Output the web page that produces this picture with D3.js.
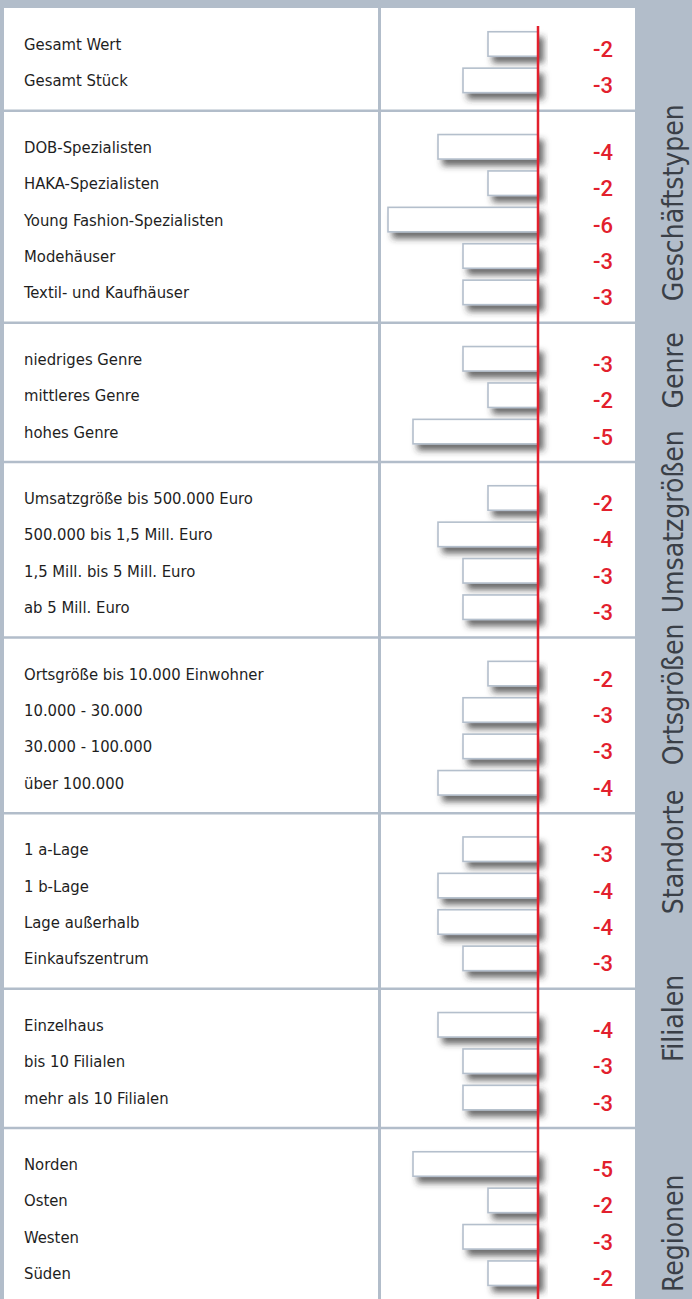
<!DOCTYPE html>
<html>
<head>
<meta charset="utf-8">
<script src="https://cdn.jsdelivr.net/npm/d3@7"></script>
<style>
  body { margin: 0; background: #b2bdca; }
  svg { display: block; }
</style>
</head>
<body>
<div id="vizArea"></div>
<script>

var w = 692
var h = 1299

// DATA ********************************
var groupNames = ["", "Geschäftstypen", "Genre", "Umsatzgrößen", "Ortsgrößen", "Standorte", "Filialen", "Regionen"];
var groupSizes = [2, 5, 3, 4, 4, 4, 3, 4];

var categories = [
    "Gesamt Wert", "Gesamt Stück",
    "DOB-Spezialisten", "HAKA-Spezialisten", "Young Fashion-Spezialisten", "Modehäuser", "Textil- und Kaufhäuser",
    "niedriges Genre", "mittleres Genre", "hohes Genre",
    "Umsatzgröße bis 500.000 Euro", "500.000 bis 1,5 Mill. Euro", "1,5 Mill. bis 5 Mill. Euro", "ab 5 Mill. Euro",
    "Ortsgröße bis 10.000 Einwohner", "10.000 - 30.000", "30.000 - 100.000", "über 100.000",
    "1 a-Lage", "1 b-Lage", "Lage außerhalb", "Einkaufszentrum",
    "Einzelhaus", "bis 10 Filialen", "mehr als 10 Filialen",
    "Norden", "Osten", "Westen", "Süden"
];

var values = [
    -2, -3,
    -4, -2, -6, -3, -3,
    -3, -2, -5,
    -2, -4, -3, -3,
    -2, -3, -3, -4,
    -3, -4, -4, -3,
    -4, -3, -3,
    -5, -2, -3, -2
];

// LAYOUT ********************************
var grey = "#b2bdca";
var red = "#e2202d";
var rowStep = 36.4, groupGap = 30, firstRow = 44;
var barH = 24.5;
// side bar titles are not centred on their groups in the original, nudge them
var sideShift = [0, -14, -22, -28, -31, -49, -40, 15];

// flatten rows with their group index
var rows = [];
var gi = 0, count = 0;
categories.forEach(function(c, i) {
    if (count == groupSizes[gi]) { gi++; count = 0; }
    rows.push({label: c, value: values[i], group: gi, idx: i});
    count++;
});

function rowY(d) {
    return firstRow + d.idx * rowStep + d.group * groupGap;
}

var x = d3.scaleLinear().domain([-6, 0]).range([388, 538]);

// group extents (top separator y)
var groups = groupNames.map(function(name, g) {
    var first = rows.filter(function(r) { return r.group == g; })[0];
    return {name: name, g: g, top: g == 0 ? 8 : rowY(first) - 36, n: groupSizes[g]};
});
groups.forEach(function(d, i) {
    d.bottom = i < groups.length - 1 ? groups[i + 1].top : d.top + d.n * rowStep + 35;
});

var svg = d3.select("#vizArea").append("svg")
    .attr("width", w)
    .attr("height", h);

var defs = svg.append("defs");
var f = defs.append("filter").attr("id", "shadow")
    .attr("x", "-10%").attr("y", "-40%").attr("width", "130%").attr("height", "200%");
f.append("feDropShadow")
    .attr("dx", 5).attr("dy", 6)
    .attr("stdDeviation", 3.2)
    .attr("flood-color", "#2e2e2e")
    .attr("flood-opacity", 0.7);

// background + white panels
svg.append("rect").attr("width", w).attr("height", h).attr("fill", grey);
svg.append("rect").attr("x", 4).attr("y", 8).attr("width", 374).attr("height", h).attr("fill", "#fff");
svg.append("rect").attr("x", 381).attr("y", 8).attr("width", 254).attr("height", h).attr("fill", "#fff");

// separators between groups
svg.selectAll("line.sep")
    .data(groups.slice(1))
    .enter()
    .append("line")
    .attr("class", "sep")
    .attr("x1", 4).attr("x2", 635)
    .attr("y1", function(d) { return d.top; })
    .attr("y2", function(d) { return d.top; })
    .attr("stroke", grey)
    .attr("stroke-width", 2.5);

// bars
svg.selectAll("rect.bar")
    .data(rows)
    .enter()
    .append("rect")
    .attr("class", "bar")
    .attr("x", function(d) { return x(d.value); })
    .attr("y", function(d) { return rowY(d) - barH / 2; })
    .attr("width", function(d) { return x(0) - x(d.value); })
    .attr("height", barH)
    .attr("fill", "#fff")
    .attr("stroke", "#b4bfcc")
    .attr("stroke-width", 1.6)
    .attr("filter", "url(#shadow)");

// zero line
svg.append("line")
    .attr("x1", x(0)).attr("x2", x(0))
    .attr("y1", 26).attr("y2", h)
    .attr("stroke", red)
    .attr("stroke-width", 2.5);

// category labels
svg.selectAll("text.cat")
    .data(rows)
    .enter()
    .append("text")
    .attr("class", "cat")
    .attr("x", 24)
    .attr("y", function(d) { return rowY(d) + 6; })
    .style("font-family", "'DejaVu Sans Condensed', 'DejaVu Sans', sans-serif")
    .style("font-size", "16.5px")
    .attr("fill", "#1e1e1e")
    .text(function(d) { return d.label; });

// value labels
svg.selectAll("text.val")
    .data(rows)
    .enter()
    .append("text")
    .attr("class", "val")
    .attr("x", 613)
    .attr("text-anchor", "end")
    .attr("y", function(d) { return rowY(d) + 13; })
    .style("font-family", "Roboto, 'DejaVu Sans Condensed', sans-serif")
    .style("font-size", "22px")
    .style("font-weight", "500")
    .attr("fill", red)
    .text(function(d) { return d.value; });

// group names in the side bar
svg.selectAll("text.grp")
    .data(groups.filter(function(d) { return d.name != ""; }))
    .enter()
    .append("text")
    .attr("class", "grp")
    .attr("transform", function(d) {
        return "translate(683," + ((d.top + d.bottom) / 2 + sideShift[d.g]) + ") rotate(-90)";
    })
    .attr("text-anchor", "middle")
    .style("font-family", "'DejaVu Sans Condensed', 'DejaVu Sans', sans-serif")
    .style("font-size", "28px")
    .attr("fill", "#3a3f47")
    .text(function(d) { return d.name; });

</script>
</body>
</html>
